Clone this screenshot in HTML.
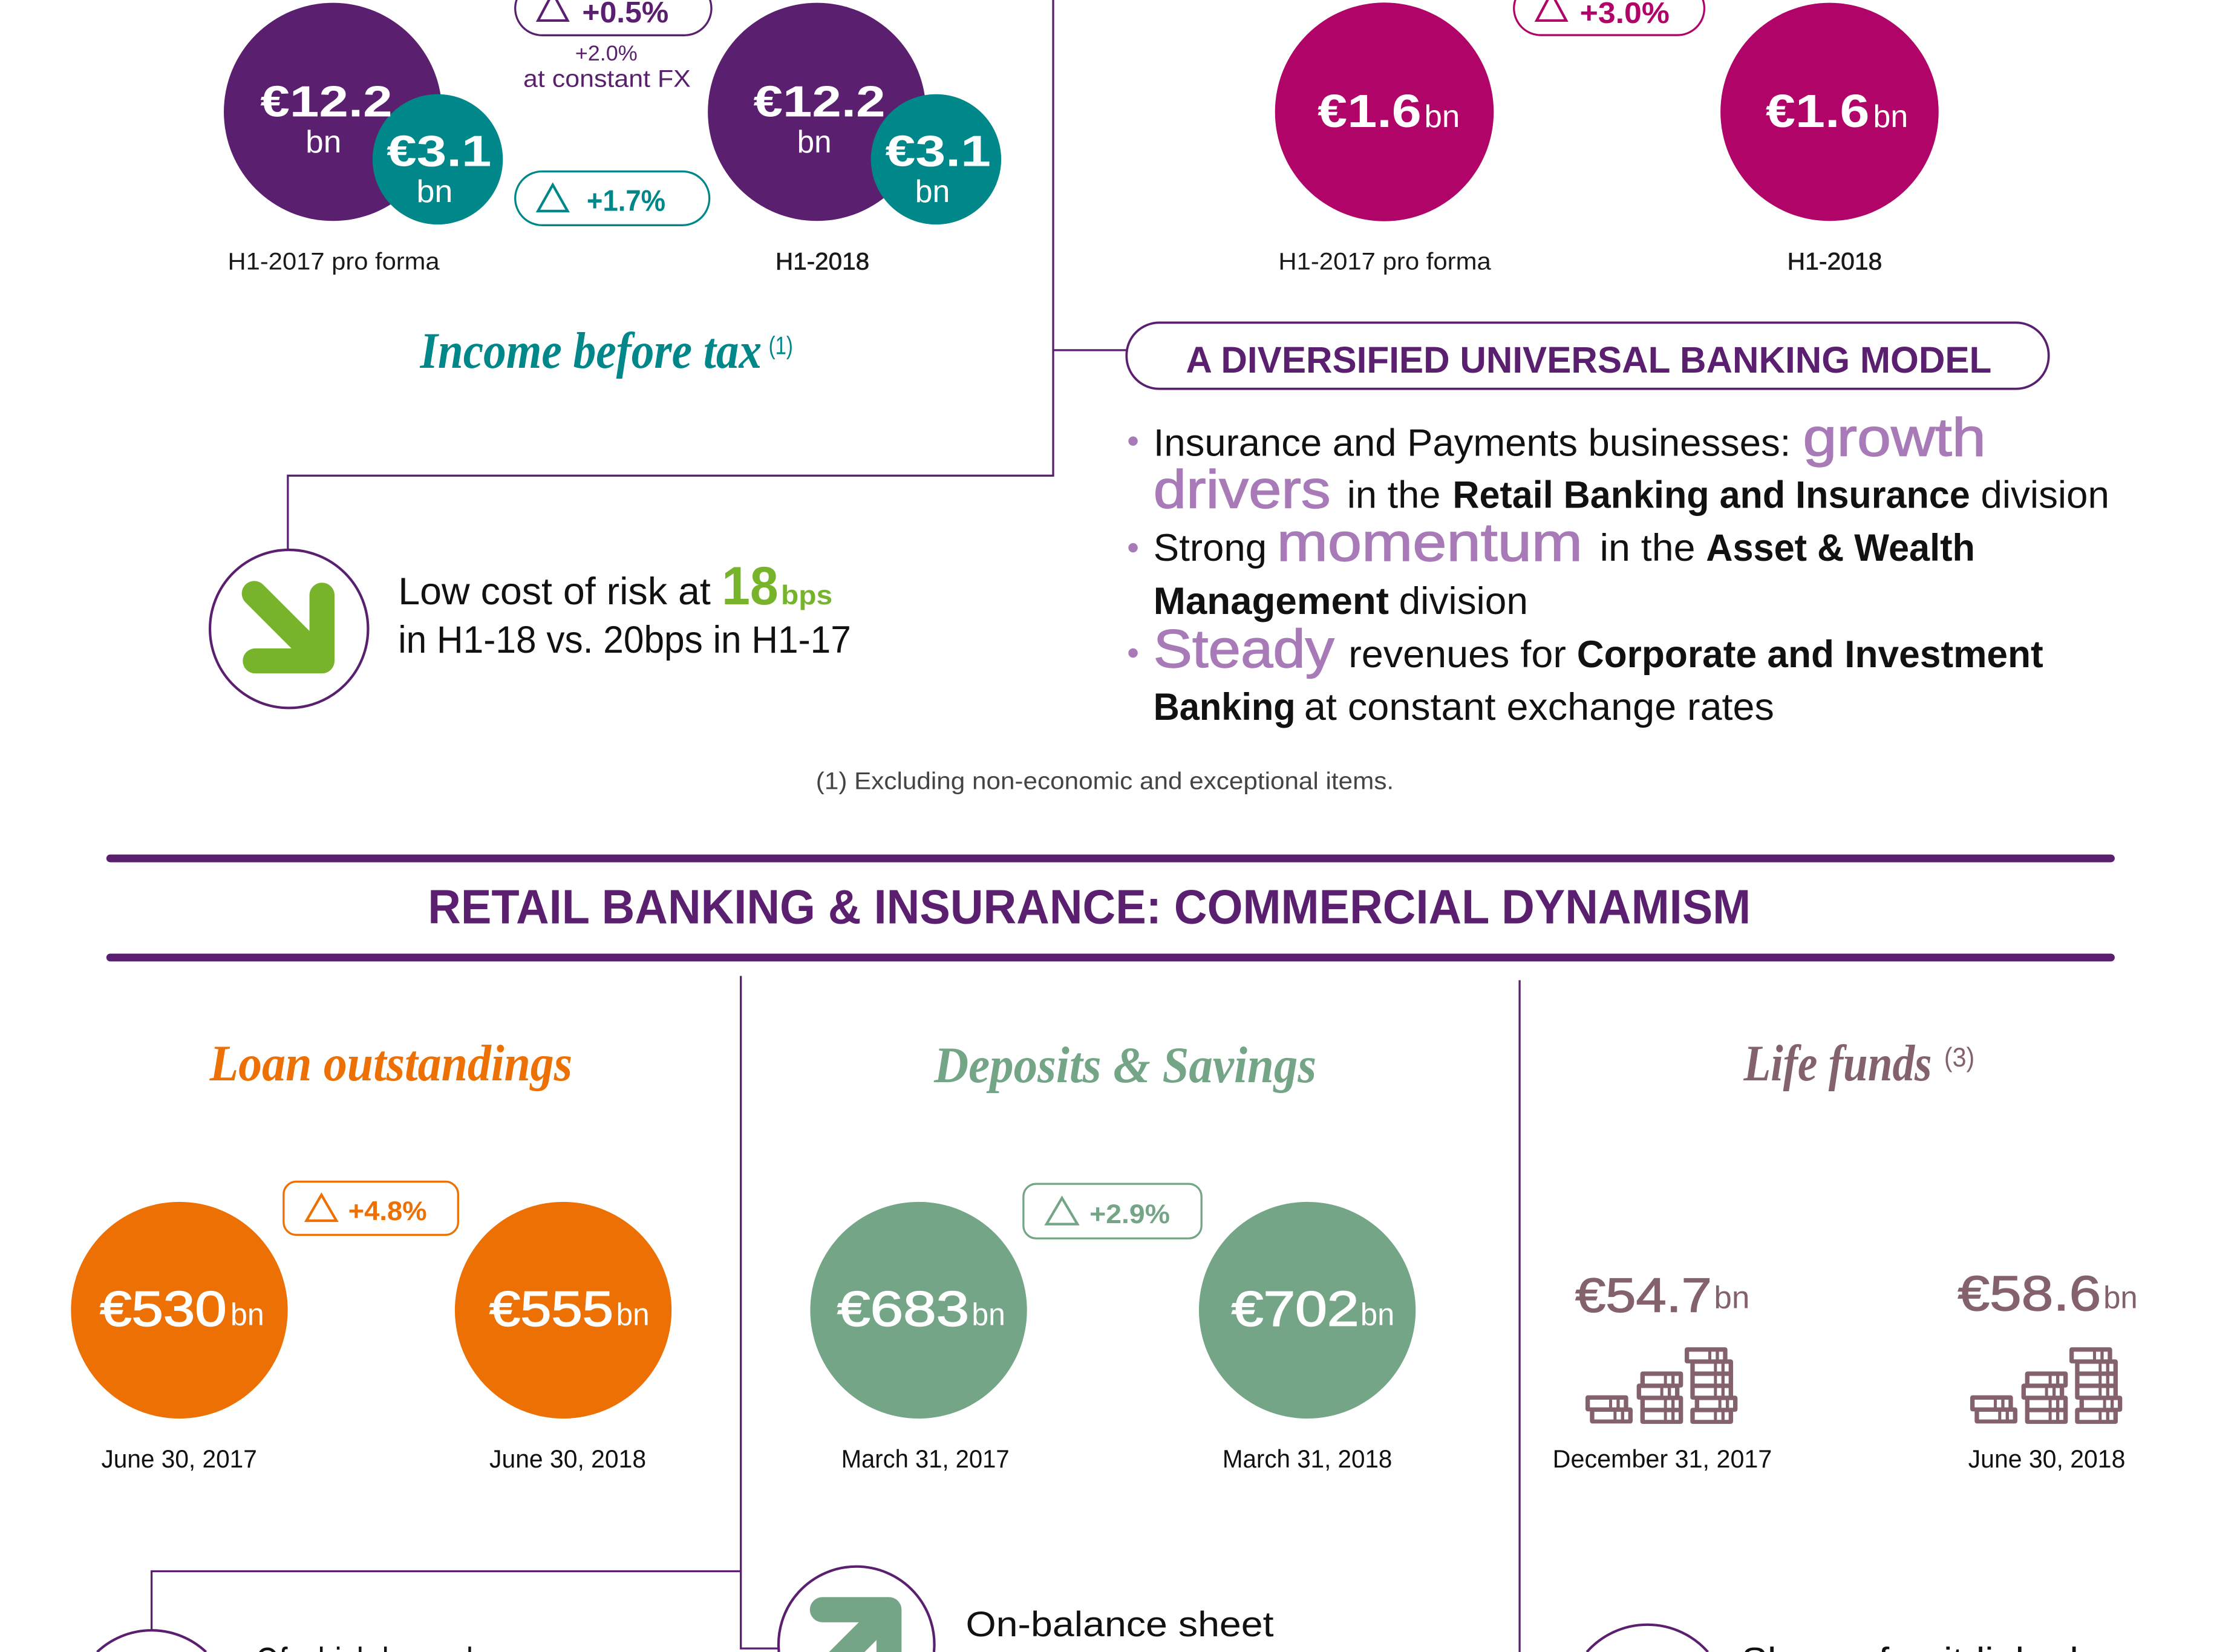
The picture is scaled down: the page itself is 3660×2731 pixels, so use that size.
<!DOCTYPE html>
<html><head><meta charset="utf-8">
<style>
html,body{margin:0;padding:0;background:#fff;overflow:hidden;width:3660px;height:2731px}
svg{display:block;overflow:hidden}
text{font-family:"Liberation Sans",sans-serif}
.s{font-family:"Liberation Serif",serif;font-style:italic;font-weight:bold}
.b{font-weight:bold}
</style></head><body>
<svg xmlns="http://www.w3.org/2000/svg" width="3660" height="2731" viewBox="0 0 1563 1166.3">
<defs>
<g id="coinicon">
<g fill="#84626c">
<rect x="33" y="275" width="212" height="80" rx="12"/><rect x="55" y="335" width="212" height="80" rx="12"/>
<rect x="305" y="157" width="212" height="80" rx="12"/><rect x="287" y="217" width="212" height="80" rx="12"/>
<rect x="305" y="277" width="212" height="80" rx="12"/><rect x="305" y="337" width="212" height="80" rx="12"/>
<rect x="525" y="37" width="212" height="80" rx="12"/><rect x="553" y="97" width="212" height="80" rx="12"/>
<rect x="553" y="157" width="212" height="80" rx="12"/><rect x="553" y="217" width="212" height="80" rx="12"/>
<rect x="575" y="277" width="212" height="80" rx="12"/><rect x="553" y="337" width="212" height="80" rx="12"/>
</g>
<g fill="#fff">
<rect x="55" y="297" width="95" height="38"/><rect x="165" y="297" width="22" height="38"/><rect x="203" y="297" width="20" height="38"/>
<rect x="77" y="357" width="95" height="38"/><rect x="187" y="357" width="22" height="38"/><rect x="225" y="357" width="20" height="38"/>
<rect x="327" y="179" width="95" height="38"/><rect x="437" y="179" width="22" height="38"/><rect x="475" y="179" width="20" height="38"/>
<rect x="309" y="239" width="95" height="38"/><rect x="419" y="239" width="22" height="38"/><rect x="457" y="239" width="20" height="38"/>
<rect x="327" y="299" width="95" height="38"/><rect x="437" y="299" width="22" height="38"/><rect x="475" y="299" width="20" height="38"/>
<rect x="327" y="359" width="95" height="38"/><rect x="437" y="359" width="22" height="38"/><rect x="475" y="359" width="20" height="38"/>
<rect x="547" y="59" width="95" height="38"/><rect x="657" y="59" width="22" height="38"/><rect x="695" y="59" width="20" height="38"/>
<rect x="575" y="119" width="95" height="38"/><rect x="685" y="119" width="22" height="38"/><rect x="723" y="119" width="20" height="38"/>
<rect x="575" y="179" width="95" height="38"/><rect x="685" y="179" width="22" height="38"/><rect x="723" y="179" width="20" height="38"/>
<rect x="575" y="239" width="95" height="38"/><rect x="685" y="239" width="22" height="38"/><rect x="723" y="239" width="20" height="38"/>
<rect x="597" y="299" width="95" height="38"/><rect x="707" y="299" width="22" height="38"/><rect x="745" y="299" width="20" height="38"/>
<rect x="575" y="359" width="95" height="38"/><rect x="685" y="359" width="22" height="38"/><rect x="723" y="359" width="20" height="38"/>
</g>
</g>
</defs>
<rect x="0" y="0" width="1563" height="1166.3" fill="#fff"/>

<!-- connector lines -->
<g stroke="#5b1f70" stroke-width="1.4" fill="none">
<path d="M743.5 0 V335.8 H203.2 V388.5"/>
<path d="M743.5 247.2 H795.5"/>
<path d="M523 689 V1163.8 H550"/>
<path d="M523 1109.3 H107 V1151"/>
<path d="M1072.8 692 V1166.3"/>
</g>

<!-- top circles -->
<circle cx="235" cy="79" r="77" fill="#5b1f70"/>
<circle cx="309" cy="112.5" r="46" fill="#00878a"/>
<circle cx="576.7" cy="79" r="77" fill="#5b1f70"/>
<circle cx="660.8" cy="112.5" r="46" fill="#00878a"/>
<circle cx="977.3" cy="79" r="77.2" fill="#b10469"/>
<circle cx="1291.6" cy="79" r="77" fill="#b10469"/>

<g fill="#fff">
<text x="183.8" y="82.3" font-size="31" class="b" textLength="93.2" lengthAdjust="spacingAndGlyphs">€12.2</text>
<text x="215.7" y="107.7" font-size="22" textLength="25.3" lengthAdjust="spacingAndGlyphs">bn</text>
<text x="273" y="117.2" font-size="31" class="b" textLength="74" lengthAdjust="spacingAndGlyphs">€3.1</text>
<text x="294" y="142.6" font-size="22" textLength="25.6" lengthAdjust="spacingAndGlyphs">bn</text>
<text x="531.9" y="82.3" font-size="31" class="b" textLength="93.1" lengthAdjust="spacingAndGlyphs">€12.2</text>
<text x="562.7" y="107.7" font-size="22" textLength="24.3" lengthAdjust="spacingAndGlyphs">bn</text>
<text x="625" y="117.2" font-size="31" class="b" textLength="74.5" lengthAdjust="spacingAndGlyphs">€3.1</text>
<text x="646" y="142.6" font-size="22" textLength="24.6" lengthAdjust="spacingAndGlyphs">bn</text>
<text x="930.2" y="89.6" font-size="33" class="b" textLength="73.3" lengthAdjust="spacingAndGlyphs">€1.6</text>
<text x="1005.5" y="89.6" font-size="22" textLength="25.1" lengthAdjust="spacingAndGlyphs">bn</text>
<text x="1246.6" y="89.6" font-size="33" class="b" textLength="73.2" lengthAdjust="spacingAndGlyphs">€1.6</text>
<text x="1322.4" y="89.6" font-size="22" textLength="24.6" lengthAdjust="spacingAndGlyphs">bn</text>
</g>

<!-- pills -->
<g fill="none" stroke-width="1.4">
<rect x="363.7" y="-13" width="138.5" height="37.9" rx="19" stroke="#5b1f70"/>
<rect x="363.7" y="121" width="137.1" height="38" rx="19" stroke="#00878a"/>
<rect x="1068.8" y="-13" width="134.4" height="37.8" rx="19" stroke="#b10469"/>
<rect x="200.2" y="834.2" width="123.2" height="37.6" rx="9" stroke="#ec7004"/>
<rect x="722.5" y="835.8" width="125.7" height="38.5" rx="9" stroke="#74a587"/>
</g>
<g fill="none" stroke-width="1.8" stroke-linejoin="miter">
<polygon points="390.2,-5 379.8,14.5 400.7,14.5" stroke="#5b1f70"/>
<polygon points="390.2,130.5 379.8,149 400.7,149" stroke="#00878a"/>
<polygon points="1095.2,-5 1084.8,14.5 1105.7,14.5" stroke="#b10469"/>
<polygon points="226.9,843.6 216.3,861.8 237.5,861.8" stroke="#ec7004"/>
<polygon points="749.7,845.8 738.8,864.2 760.6,864.2" stroke="#74a587"/>
</g>
<text x="411" y="15.7" font-size="21" class="b" fill="#5b1f70" textLength="61" lengthAdjust="spacingAndGlyphs">+0.5%</text>
<text x="414.2" y="148.8" font-size="21" class="b" fill="#00878a" textLength="55.6" lengthAdjust="spacingAndGlyphs">+1.7%</text>
<text x="1115.3" y="16.2" font-size="21" class="b" fill="#b10469" textLength="63.3" lengthAdjust="spacingAndGlyphs">+3.0%</text>
<text x="245.8" y="861.3" font-size="19" class="b" fill="#ec7004" textLength="55.5" lengthAdjust="spacingAndGlyphs">+4.8%</text>
<text x="769.2" y="863.5" font-size="19" class="b" fill="#74a587" textLength="56.7" lengthAdjust="spacingAndGlyphs">+2.9%</text>
<text x="406" y="42.7" font-size="15" fill="#5b1f70" textLength="44" lengthAdjust="spacingAndGlyphs">+2.0%</text>
<text x="369.4" y="61.2" font-size="17" fill="#5b1f70" textLength="118.2" lengthAdjust="spacingAndGlyphs">at constant FX</text>

<!-- top labels -->
<g fill="#1a1a1a" font-size="17">
<text x="160.8" y="190.2" textLength="149.5" lengthAdjust="spacingAndGlyphs">H1-2017 pro forma</text>
<text x="547.5" y="190.2" stroke="#1a1a1a" stroke-width="0.3" textLength="66.2" lengthAdjust="spacingAndGlyphs">H1-2018</text>
<text x="902.5" y="190.2" textLength="150.1" lengthAdjust="spacingAndGlyphs">H1-2017 pro forma</text>
<text x="1261.8" y="190.2" stroke="#1a1a1a" stroke-width="0.3" textLength="66.9" lengthAdjust="spacingAndGlyphs">H1-2018</text>
</g>

<text x="296.6" y="259.6" font-size="36" class="s" fill="#00878a" textLength="241.1" lengthAdjust="spacingAndGlyphs">Income before tax</text>
<text x="542.6" y="250" font-size="18" font-family="Liberation Serif" fill="#00878a" textLength="17.2" lengthAdjust="spacingAndGlyphs">(1)</text>

<!-- diversified pill -->
<rect x="795.3" y="227.8" width="651" height="46.7" rx="23" fill="none" stroke="#5b1f70" stroke-width="1.6"/>
<text x="837.2" y="263" font-size="26" class="b" fill="#5b1f70" textLength="568.8" lengthAdjust="spacingAndGlyphs">A DIVERSIFIED UNIVERSAL BANKING MODEL</text>

<!-- bullets -->
<g fill="#a87bb8">
<circle cx="799.9" cy="311.4" r="3.3"/>
<circle cx="799.9" cy="386.7" r="3.3"/>
<circle cx="799.9" cy="461" r="3.3"/>
</g>
<g fill="#111" font-size="27">
<text x="814.3" y="321.8" textLength="449.9" lengthAdjust="spacingAndGlyphs">Insurance and Payments businesses:</text>
<text x="951" y="358.6" textLength="66" lengthAdjust="spacingAndGlyphs">in the</text>
<text x="1025.5" y="358.6" class="b" textLength="365.3" lengthAdjust="spacingAndGlyphs">Retail Banking and Insurance</text>
<text x="1398.4" y="358.6" textLength="90.7" lengthAdjust="spacingAndGlyphs">division</text>
<text x="814.3" y="395.8" textLength="80" lengthAdjust="spacingAndGlyphs">Strong</text>
<text x="1129.4" y="395.8" textLength="67.4" lengthAdjust="spacingAndGlyphs">in the</text>
<text x="1204.4" y="395.8" class="b" textLength="189.9" lengthAdjust="spacingAndGlyphs">Asset &amp; Wealth</text>
<text x="814.3" y="433.5" class="b" textLength="166.2" lengthAdjust="spacingAndGlyphs">Management</text>
<text x="987.6" y="433.5" textLength="91.1" lengthAdjust="spacingAndGlyphs">division</text>
<text x="952" y="471" textLength="153.6" lengthAdjust="spacingAndGlyphs">revenues for</text>
<text x="1113.2" y="471" class="b" textLength="329.3" lengthAdjust="spacingAndGlyphs">Corporate and Investment</text>
<text x="814.3" y="508.2" class="b" textLength="100.3" lengthAdjust="spacingAndGlyphs">Banking</text>
<text x="920.7" y="508.2" textLength="331.8" lengthAdjust="spacingAndGlyphs">at constant exchange rates</text>
</g>
<g fill="#a87bb8" stroke="#a87bb8" stroke-width="0.6" font-size="38">
<text x="1272.8" y="321.8" textLength="129.2" lengthAdjust="spacingAndGlyphs">growth</text>
<text x="814.3" y="358.6" textLength="125.1" lengthAdjust="spacingAndGlyphs">drivers</text>
<text x="901.4" y="395.8" textLength="215.8" lengthAdjust="spacingAndGlyphs">momentum</text>
<text x="814.3" y="471" textLength="127.7" lengthAdjust="spacingAndGlyphs">Steady</text>
</g>

<!-- cost of risk -->
<circle cx="204" cy="444" r="55.8" fill="none" stroke="#5b1f70" stroke-width="1.8"/>
<g stroke="#78b42b" stroke-width="17.7" stroke-linecap="round" stroke-linejoin="round" fill="none">
<path d="M179.5 419 L224 463.5"/>
<path d="M227.3 420.2 V466.6 H180.2"/>
</g>
<g fill="#111" font-size="27">
<text x="281.1" y="426.6" textLength="220.6" lengthAdjust="spacingAndGlyphs">Low cost of risk at</text>
<text x="281.1" y="460.9" textLength="319.7" lengthAdjust="spacingAndGlyphs">in H1-18 vs. 20bps in H1-17</text>
</g>
<text x="509.5" y="426.6" font-size="38" class="b" fill="#78b42b" textLength="40" lengthAdjust="spacingAndGlyphs">18</text>
<text x="551.3" y="426.6" font-size="19" class="b" fill="#78b42b" textLength="36.4" lengthAdjust="spacingAndGlyphs">bps</text>

<text x="576" y="557" font-size="17" fill="#444" textLength="408" lengthAdjust="spacingAndGlyphs">(1) Excluding non-economic and exceptional items.</text>

<!-- section header -->
<g stroke="#5b1f70" stroke-width="5.5" stroke-linecap="round">
<line x1="77.8" y1="606" x2="1490.2" y2="606"/>
<line x1="77.8" y1="676" x2="1490.2" y2="676"/>
</g>
<text x="302" y="652" font-size="34" class="b" fill="#5b1f70" textLength="934" lengthAdjust="spacingAndGlyphs">RETAIL BANKING &amp; INSURANCE: COMMERCIAL DYNAMISM</text>

<!-- script titles -->
<text x="148" y="762.8" font-size="36" class="s" fill="#ec7004" textLength="256" lengthAdjust="spacingAndGlyphs">Loan outstandings</text>
<text x="659.4" y="764" font-size="36" class="s" fill="#74a587" textLength="269.9" lengthAdjust="spacingAndGlyphs">Deposits &amp; Savings</text>
<text x="1231" y="762.8" font-size="36" class="s" fill="#84626c" textLength="132.8" lengthAdjust="spacingAndGlyphs">Life funds</text>
<text x="1372.5" y="753" font-size="19" font-family="Liberation Serif" fill="#84626c" textLength="21.5" lengthAdjust="spacingAndGlyphs">(3)</text>

<!-- bottom circles -->
<circle cx="126.6" cy="925" r="76.5" fill="#ec7004"/>
<circle cx="397.6" cy="925" r="76.5" fill="#ec7004"/>
<circle cx="648.5" cy="925" r="76.5" fill="#74a587"/>
<circle cx="922.9" cy="925" r="76.5" fill="#74a587"/>

<g fill="#fff" stroke="#fff" stroke-width="0.7">
<text x="70.5" y="936" font-size="35" textLength="89.5" lengthAdjust="spacingAndGlyphs">€530</text>
<text x="345.5" y="936" font-size="35" textLength="87.5" lengthAdjust="spacingAndGlyphs">€555</text>
<text x="591.1" y="936" font-size="35" textLength="93.1" lengthAdjust="spacingAndGlyphs">€683</text>
<text x="869.4" y="936" font-size="35" textLength="90" lengthAdjust="spacingAndGlyphs">€702</text>
</g>
<g fill="#fff" font-size="22">
<text x="162.7" y="935.5" textLength="23.8" lengthAdjust="spacingAndGlyphs">bn</text>
<text x="435" y="935.5" textLength="23.5" lengthAdjust="spacingAndGlyphs">bn</text>
<text x="686" y="935.5" textLength="23.7" lengthAdjust="spacingAndGlyphs">bn</text>
<text x="960.4" y="935.5" textLength="24.1" lengthAdjust="spacingAndGlyphs">bn</text>
</g>

<!-- life funds values -->
<g fill="#84626c" stroke="#84626c" stroke-width="0.6">
<text x="1112.1" y="926" font-size="34" textLength="96.4" lengthAdjust="spacingAndGlyphs">€54.7</text>
<text x="1382.1" y="925" font-size="35" textLength="101.2" lengthAdjust="spacingAndGlyphs">€58.6</text>
</g>
<g fill="#84626c" font-size="22">
<text x="1210" y="923.5" textLength="25.2" lengthAdjust="spacingAndGlyphs">bn</text>
<text x="1484.9" y="923.5" textLength="24.2" lengthAdjust="spacingAndGlyphs">bn</text>
</g>
<use href="#coinicon" transform="translate(1114.6,945.9) scale(0.14235)"/>
<use href="#coinicon" transform="translate(1386.2,945.9) scale(0.14235)"/>

<!-- date labels -->
<g fill="#111" font-size="18">
<text x="71.5" y="1036" textLength="109.9" lengthAdjust="spacingAndGlyphs">June 30, 2017</text>
<text x="345.5" y="1036" textLength="110.6" lengthAdjust="spacingAndGlyphs">June 30, 2018</text>
<text x="593.9" y="1036" textLength="118.7" lengthAdjust="spacingAndGlyphs">March 31, 2017</text>
<text x="863" y="1036" textLength="119.8" lengthAdjust="spacingAndGlyphs">March 31, 2018</text>
<text x="1096.1" y="1036" textLength="154.9" lengthAdjust="spacingAndGlyphs">December 31, 2017</text>
<text x="1389.5" y="1036" textLength="110.9" lengthAdjust="spacingAndGlyphs">June 30, 2018</text>
</g>

<!-- bottom partial circles (clipped at frame edge) -->
<g fill="none" stroke="#5b1f70" stroke-width="1.8">
<path d="M68.54 1166.3 A56 56 0 0 1 145.46 1166.3"/>
<path d="M549.86 1166.3 A55 55 0 1 1 659.34 1166.3"/>
<path d="M1120.25 1166.3 A57 57 0 0 1 1205.75 1166.3"/>
</g>
<path fill="#74a587" d="M580.6 1127.55 H627.6 A8.85 8.85 0 0 1 636.45 1136.4 V1166.3 H618.75 V1157.87 L610.32 1166.3 H585.28 L606.28 1145.3 H580.6 A8.85 8.85 0 0 1 580.6 1127.55 Z"/>
<g fill="#111">
<text x="681.8" y="1155.2" font-size="25" textLength="217.4" lengthAdjust="spacingAndGlyphs">On-balance sheet</text>
<text x="180.4" y="1181.5" font-size="26" textLength="200" lengthAdjust="spacingAndGlyphs">Of which home loans</text>
<text x="1229.4" y="1181.5" font-size="26" textLength="237.9" lengthAdjust="spacingAndGlyphs">Share of unit-linked</text>
</g>
</svg>
</body></html>
